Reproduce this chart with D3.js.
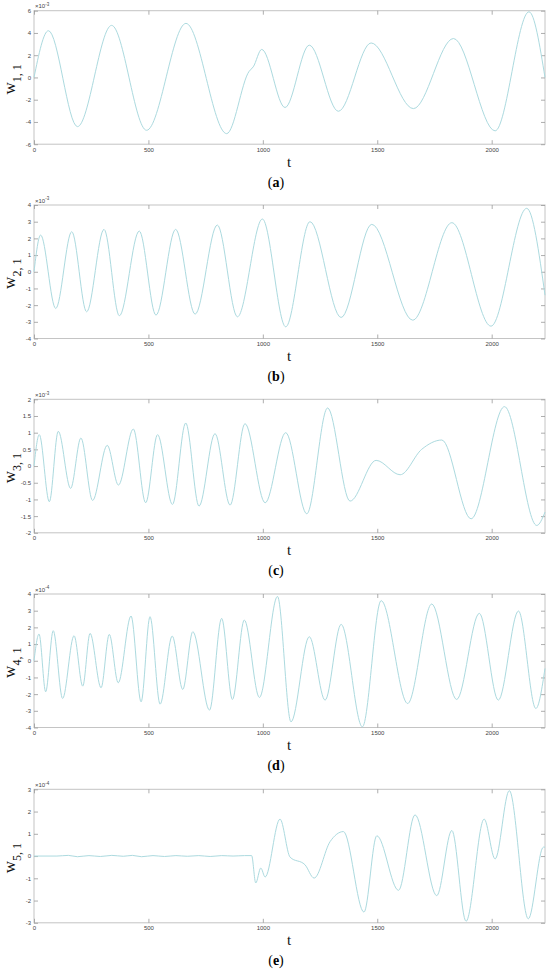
<!DOCTYPE html>
<html>
<head>
<meta charset="utf-8">
<script src="https://cdn.jsdelivr.net/npm/d3@7"></script>
<style>
  html, body { margin: 0; padding: 0; background: #fff; }
  svg { display: block; }
</style>
</head>
<body>
<svg id="chart" width="550" height="972"></svg>
<script>
// ---------------- DATA (t, value) ----------------
const w11 = [[0,0],[63,4.2],[190,-4.42],[339,4.68],[492,-4.75],[664,4.86],[842,-5.05],[940,0.55],[958,0.95],[995,2.52],
  [1097,-2.7],[1203,2.9],[1330,-3.04],[1473,3.1],[1658,-2.8],[1833,3.5],[2015,-4.8],[2163,5.9],[2233,0.0]];

const w21 = [[0,0],[29,2.2],[95,-2.2],[165,2.4],[230,-2.4],[306,2.54],[373,-2.64],[460,2.44],[533,-2.6],[619,2.54],
  [704,-2.54],[801,2.8],[889,-2.7],[998,3.16],[1100,-3.3],[1206,3.0],[1342,-2.74],[1476,2.84],[1655,-2.9],
  [1826,2.94],[1997,-3.26],[2153,3.8],[2233,-1.4]];

const w31 = [[0,0],[23,0.94],[67,-1.07],[106,1.04],[160,-0.67],[205,0.84],[256,-1.03],[320,0.62],[369,-0.57],
  [434,1.11],[488,-1.1],[540,0.94],[605,-1.15],[663,1.29],[721,-1.2],[791,0.97],[857,-1.17],[922,1.27],
  [1010,-1.1],[1100,1.0],[1192,-1.43],[1283,1.74],[1381,-1.05],[1495,0.17],[1600,-0.26],[1694,0.5],[1782,0.78],
  [1910,-1.58],[2056,1.78],[2197,-1.78],[2233,-1.38]];

const w41 = [[0,0],[22,1.6],[51,-1.86],[84,1.8],[125,-2.26],[175,1.5],[213,-1.52],[245,1.64],[293,-1.62],[329,1.58],
  [368,-1.32],[424,2.68],[468,-2.46],[507,2.64],[551,-2.6],[604,1.48],[650,-1.72],[694,1.74],[767,-2.96],
  [820,2.54],[867,-2.32],[919,2.44],[985,-2.2],[1064,3.85],[1123,-3.66],[1203,1.44],[1272,-2.36],[1342,2.18],
  [1435,-3.96],[1517,3.6],[1633,-2.56],[1738,3.4],[1847,-2.32],[1946,2.84],[2029,-2.36],[2117,2.98],
  [2193,-2.86],[2233,-0.46]];

const w51 = [[0,0],[100,0],[150,0.03],[190,-0.03],[240,0.02],[290,-0.02],[340,0.03],[390,-0.01],[430,0.03],
  [470,-0.03],[520,0.02],[570,-0.02],[620,0.02],[670,-0.01],[720,0.02],[770,-0.02],[820,0.02],[870,0.0],
  [920,0.02],[951,0.02],[969,-1.21],[991,-0.54],[1010,-0.94],[1075,1.66],[1119,-0.05],[1184,-0.39],[1224,-0.99],
  [1294,0.65],[1352,1.1],[1442,-2.52],[1498,0.91],[1593,-1.54],[1665,1.85],[1760,-1.78],[1826,1.15],
  [1888,-2.93],[1967,1.66],[2015,-0.13],[2077,2.94],[2160,-2.82],[2226,0.4],[2233,0.4]];

const series = [w11, w21, w31, w41, w51];
const subscripts = ["1, 1", "2, 1", "3, 1", "4, 1", "5, 1"];
const panelTags = ["a", "b", "c", "d", "e"];
const exponents = ["-3", "-3", "-3", "-4", "-4"];
const yDomains = [[-6, 6], [-4, 4], [-2, 2], [-4, 4], [-3, 3]];
const yTickVals = [
  [-6, -4, -2, 0, 2, 4, 6],
  [-4, -3, -2, -1, 0, 1, 2, 3, 4],
  [-2, -1.5, -1, -0.5, 0, 0.5, 1, 1.5, 2],
  [-4, -3, -2, -1, 0, 1, 2, 3, 4],
  [-3, -2, -1, 0, 1, 2, 3]
];
const xTickVals = [0, 500, 1000, 1500, 2000];
const xDomain = [0, 2233];

// ---------------- LAYOUT ----------------
const svg = d3.select("#chart");
const left = 34, right = 545, plotH = 133.5;
const panelTops = [10.7, 205, 399.3, 594, 789.3];
const lineColor = "#acdadf";
const frameColor = "#c4c4c4";
const tickLen = 4;
const fmt = v => String(v);

const x = d3.scaleLinear().domain(xDomain).range([left, right]);

series.forEach((data, i) => {
  const top = panelTops[i], bottom = top + plotH;
  const y = d3.scaleLinear().domain(yDomains[i]).range([bottom, top]);
  const g = svg.append("g");

  // frame
  g.append("rect").attr("x", left).attr("y", top).attr("width", right - left).attr("height", plotH)
    .attr("fill", "none").attr("stroke", frameColor).attr("stroke-width", 1);

  // axes with inward ticks
  const ax = (axis, tx, ty) => {
    const a = g.append("g").attr("transform", `translate(${tx},${ty})`).call(axis);
    a.select(".domain").remove();
    a.selectAll("line").attr("stroke", "#999").attr("stroke-width", 0.8);
    a.selectAll("text").attr("fill", "#444").attr("font-size", 6).attr("font-family", "Liberation Sans, Arial, sans-serif");
    return a;
  };
  ax(d3.axisBottom(x).tickValues(xTickVals).tickFormat(fmt).tickSizeInner(-tickLen).tickSizeOuter(0).tickPadding(4), 0, bottom)
    .selectAll("text").attr("dy", "0.6em");
  ax(d3.axisTop(x).tickValues(xTickVals).tickFormat("").tickSizeInner(-tickLen).tickSizeOuter(0), 0, top);
  ax(d3.axisLeft(y).tickValues(yTickVals[i]).tickFormat(fmt).tickSizeInner(-tickLen).tickSizeOuter(0).tickPadding(3), left, 0);
  ax(d3.axisRight(y).tickValues(yTickVals[i]).tickFormat("").tickSizeInner(-tickLen).tickSizeOuter(0), right, 0);

  // exponent label
  const ex = g.append("text").attr("x", left + 1).attr("y", top - 2.3)
    .attr("font-size", 6).attr("fill", "#444").attr("font-family", "Liberation Sans, Arial, sans-serif");
  ex.append("tspan").text("×10");
  ex.append("tspan").attr("dy", -2.5).attr("font-size", 4.5).text(exponents[i]);

  // data line
  const line = d3.line().x(d => x(d[0])).y(d => y(d[1])).curve(d3.curveMonotoneX);
  g.append("path").datum(data).attr("d", line).attr("fill", "none")
    .attr("stroke", lineColor).attr("stroke-width", 1);

  // y label
  const yl = g.append("text").attr("transform", `translate(15,${top + plotH / 2 + 2}) rotate(-90)`)
    .attr("text-anchor", "middle").attr("font-family", "Liberation Serif, Times New Roman, serif").attr("fill", "#111");
  yl.append("tspan").attr("font-size", 17).text("w");
  yl.append("tspan").attr("font-size", 12).attr("dy", 6).text(subscripts[i]);

  // x label
  g.append("text").attr("x", 289).attr("y", top + 156).attr("text-anchor", "middle")
    .attr("font-family", "Liberation Serif, Times New Roman, serif").attr("font-size", 15).attr("fill", "#111").text("t");

  // panel tag
  const tag = g.append("text").attr("x", 276).attr("y", top + 176).attr("text-anchor", "middle")
    .attr("font-family", "Liberation Serif, Times New Roman, serif").attr("font-size", 14).attr("fill", "#000");
  tag.append("tspan").text("(");
  tag.append("tspan").attr("font-weight", "bold").text(panelTags[i]);
  tag.append("tspan").text(")");
});
</script>
</body>
</html>
